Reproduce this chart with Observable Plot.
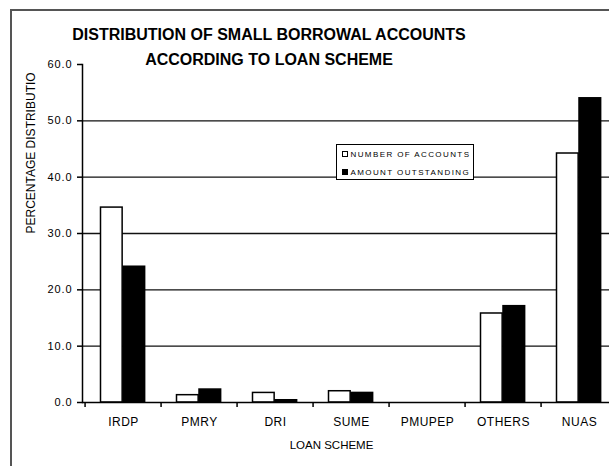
<!DOCTYPE html>
<html>
<head>
<meta charset="utf-8">
<script src="https://cdn.jsdelivr.net/npm/d3@7"></script>
<script src="https://cdn.jsdelivr.net/npm/@observablehq/plot@0.6"></script>
<style>
  html, body { margin: 0; padding: 0; background: #fff; overflow: hidden; width: 609px; height: 466px; }
  body { position: relative; font-family: "Liberation Sans", Arial, sans-serif; }
  #border { position: absolute; left: 10px; top: 9px; width: 700px; height: 600px; border: 2px solid #555; }
  #chart { position: absolute; left: 0; top: 0; }
  #chart svg { max-width: none !important; background: none !important; }
  #title { position: absolute; left: 0; top: 23px; width: 538px; text-align: center;
           font: bold 16px/24.5px "Liberation Sans", Arial, sans-serif; color: #000; }
  #legend { position: absolute; left: 336px; top: 144px; width: 136px; height: 34px;
            border: 1px solid #000; background: #fff; }
  #legend .row { position: absolute; left: 5px; height: 10px; display: flex; align-items: center;
                 font: 8px "Liberation Sans", Arial, sans-serif; letter-spacing: 1.4px; color: #000; white-space: nowrap; }
  #legend .sw { width: 3.5px; height: 3.5px; border: 1px solid #000; margin-right: 3px; flex: none; }
  g[aria-label="y-axis tick label"] text { letter-spacing: 0.9px; }
  g[aria-label="x-axis tick label"] text { letter-spacing: 0.5px; }
</style>
</head>
<body>
<div id="border"></div>
<div id="chart"></div>
<div id="title">DISTRIBUTION OF SMALL BORROWAL ACCOUNTS<br>ACCORDING TO LOAN SCHEME</div>
<div id="legend"></div>
<script>
// Loan schemes along the x axis
const schemes = ["IRDP", "PMRY", "DRI", "SUME", "PMUPEP", "OTHERS", "NUAS"];
// Percentage distribution of each series per scheme
const numberOfAccounts  = [34.6, 1.3, 1.7, 2.0, 0.0, 15.8, 44.2];
const amountOutstanding = [24.1, 2.3, 0.4, 1.7, 0.0, 17.1, 54.0];
// Series names and their fills
const seriesNames = ["NUMBER OF ACCOUNTS", "AMOUNT OUTSTANDING"];
const seriesFills = ["#ffffff", "#000000"];
// Y axis ticks and the horizontal grid values
const yTicks = [0, 10, 20, 30, 40, 50, 60];
const gridValues = [10, 20, 30, 40, 50];

const rows = schemes.map((scheme, i) => ({
  scheme,
  accounts: numberOfAccounts[i],
  amount: amountOutstanding[i]
}));

const W = 620, H = 466, ML = 82, MR = 0, MT = 64, MB = 64;
const band = (W - ML - MR) / schemes.length;
const barW = 22.5, outer = 15.5;

const chart = Plot.plot({
  width: W,
  height: H,
  marginLeft: ML,
  marginRight: MR,
  marginTop: MT,
  marginBottom: MB,
  style: { fontFamily: "'Liberation Sans', Arial, sans-serif", color: "#000" },
  x: { domain: schemes, padding: 0, axis: null },
  y: { domain: [0, 60], axis: null },
  marks: [
    Plot.ruleY(gridValues, { stroke: "#111", strokeWidth: 1.3 }),
    Plot.barY(rows, {
      x: "scheme", y: "accounts",
      fill: seriesFills[0], stroke: "#000", strokeWidth: 1.5,
      insetLeft: outer, insetRight: band - outer - barW
    }),
    Plot.barY(rows, {
      x: "scheme", y: "amount",
      fill: seriesFills[1], stroke: "#000", strokeWidth: 1.5,
      insetLeft: outer + barW, insetRight: band - outer - 2 * barW
    }),
    Plot.frame({ anchor: "left", stroke: "#000", strokeWidth: 1.5 }),
    Plot.ruleY([0], { stroke: "#000", strokeWidth: 1.5 }),
    Plot.axisY({
      ticks: yTicks, tickSize: 5, tickPadding: 5, tickFormat: d3.format(".1f"),
      fontSize: 11, label: null, strokeWidth: 1.5
    }),
    // tick marks at the band boundaries
    Plot.axisX({ ticks: schemes, tickSize: 5, text: null, label: null, dx: -band / 2, strokeWidth: 1.5 }),
    Plot.axisX({ ticks: schemes, tickSize: 0, tickPadding: 15, fontSize: 12, label: null }),
    Plot.text(["PERCENTAGE DISTRIBUTIO"], {
      frameAnchor: "left", dx: -51, rotate: -90, fontSize: 12, fill: "#000"
    }),
    Plot.text(["LOAN SCHEME"], {
      frameAnchor: "bottom", dx: -20, dy: 46, fontSize: 11.5, fill: "#000"
    })
  ]
});
document.getElementById("chart").append(chart);

// Legend box
const legend = document.getElementById("legend");
seriesNames.forEach((name, i) => {
  const row = document.createElement("div");
  row.className = "row";
  row.style.top = (i === 0 ? 4 : 22) + "px";
  const sw = document.createElement("span");
  sw.className = "sw";
  sw.style.background = seriesFills[i];
  row.append(sw, document.createTextNode(name));
  legend.append(row);
});
</script>
</body>
</html>
